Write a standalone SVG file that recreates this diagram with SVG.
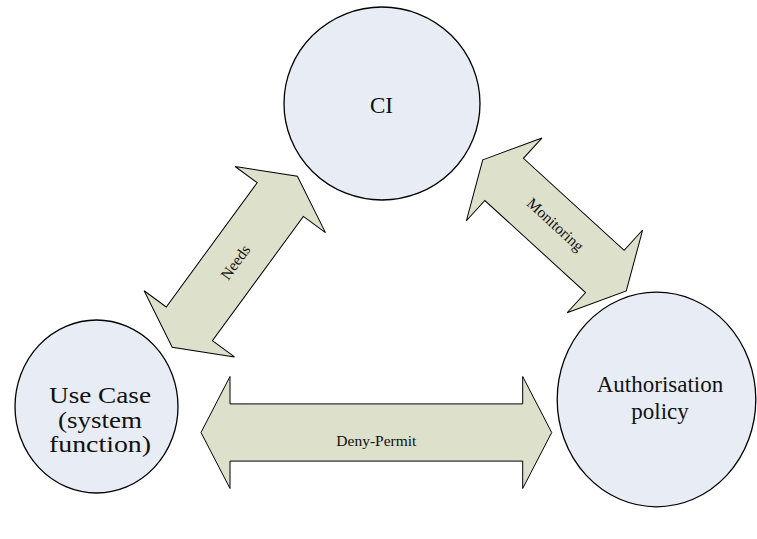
<svg xmlns="http://www.w3.org/2000/svg" width="757" height="539" viewBox="0 0 757 539">
  <style>
    .node { fill: #e8ecf4; stroke: #000; stroke-width: 1.3; }
    .flow { fill: #dde0ca; stroke: #000; stroke-width: 1; stroke-linejoin: miter; }
    text { font-family: "Liberation Serif", "Times New Roman", Times, serif; fill: #111; text-anchor: middle; }
    .big { font-size: 23px; }
    .small { font-size: 15.5px; }
  </style>
  <rect width="757" height="539" fill="#fff"/>

  <!-- double-headed block arrows -->
  <g id="connectors">
    <!-- Needs: Use Case <-> CI -->
    <g id="edge-needs" transform="translate(234.8 261.7) rotate(-53.8)">
      <path class="flow" d="M-106 0 L-77 -56 L-77 -28.6 L77 -28.6 L77 -56 L106 0 L77 56 L77 28.6 L-77 28.6 L-77 56 Z"/>
      <text class="small" x="0" y="6">Needs</text>
    </g>
    <!-- Monitoring: CI <-> Authorisation policy -->
    <g id="edge-monitoring" transform="translate(554.5 225.4) rotate(42.4)">
      <path class="flow" d="M-97.2 0 L-68.2 -56 L-68.2 -28.6 L68.2 -28.6 L68.2 -56 L97.2 0 L68.2 56 L68.2 28.6 L-68.2 28.6 L-68.2 56 Z"/>
      <text class="small" x="0" y="4">Monitoring</text>
    </g>
    <!-- Deny-Permit: Use Case <-> Authorisation policy -->
    <g id="edge-deny-permit" transform="translate(376.35 432.5)">
      <path class="flow" d="M-175.35 0 L-146.35 -56 L-146.35 -28.6 L146.35 -28.6 L146.35 -56 L175.35 0 L146.35 56 L146.35 28.6 L-146.35 28.6 L-146.35 56 Z"/>
      <text class="small" x="0" y="13.5">Deny-Permit</text>
    </g>
  </g>

  <g id="node-ci">
    <ellipse class="node" cx="382" cy="103.5" rx="98" ry="96.5"/>
    <text class="big" x="381.5" y="113">CI</text>
  </g>

  <g id="node-use-case">
    <ellipse class="node" cx="96.5" cy="406.5" rx="81.5" ry="86.5"/>
    <text class="big" x="100" y="403" textLength="102" lengthAdjust="spacingAndGlyphs">Use Case</text>
    <text class="big" x="100" y="427.5" textLength="84" lengthAdjust="spacingAndGlyphs">(system</text>
    <text class="big" x="100" y="452" textLength="102" lengthAdjust="spacingAndGlyphs">function)</text>
  </g>

  <g id="node-authorisation">
    <ellipse class="node" cx="656.5" cy="399.5" rx="99.3" ry="107.3"/>
    <text class="big" x="660" y="392">Authorisation</text>
    <text class="big" x="660" y="419">policy</text>
  </g>
</svg>
